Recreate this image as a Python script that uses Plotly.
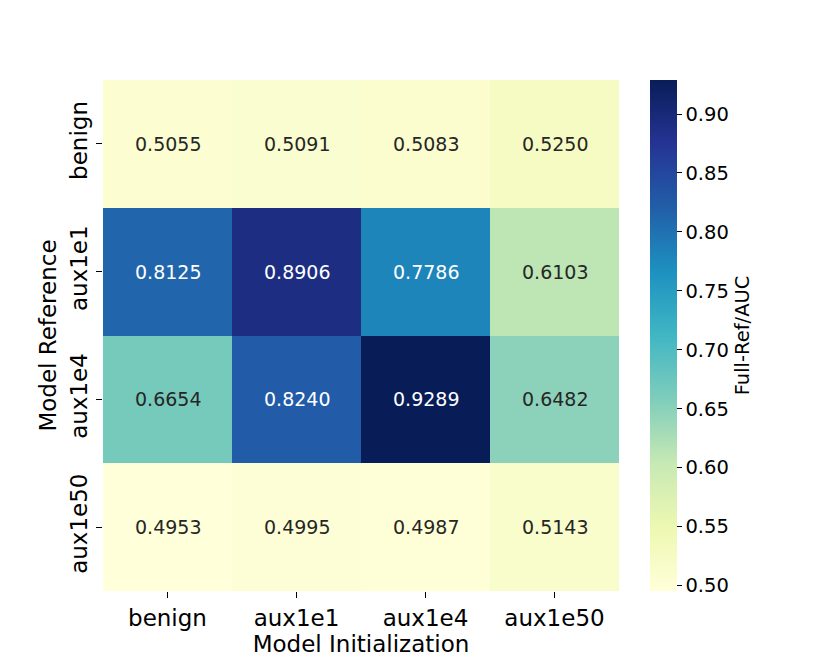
import numpy as np
import plotly.graph_objects as go

# ============================================================
# Data
# ============================================================
init_labels = ["benign", "aux1e1", "aux1e4", "aux1e50"]
ref_labels = ["benign", "aux1e1", "aux1e4", "aux1e50"]

auc = [
    [0.5055, 0.5091, 0.5083, 0.5250],
    [0.8125, 0.8906, 0.7786, 0.6103],
    [0.6654, 0.8240, 0.9289, 0.6482],
    [0.4953, 0.4995, 0.4987, 0.5143],
]

cbar_ticks = [0.50, 0.55, 0.60, 0.65, 0.70, 0.75, 0.80, 0.85, 0.90]

# ============================================================
# YlGnBu (matplotlib / colorbrewer)
# ============================================================
ylgnbu = [
    (255, 255, 217), (237, 248, 177), (199, 233, 180), (127, 205, 187),
    (65, 182, 196), (29, 145, 192), (34, 94, 168), (37, 52, 148), (8, 29, 88),
]
scale = [[i / (len(ylgnbu) - 1), "rgb(%d,%d,%d)" % c] for i, c in enumerate(ylgnbu)]

z = np.array(auc)
zmin, zmax = z.min(), z.max()


def cell_rgb(v):
    t = (v - zmin) / (zmax - zmin) * (len(ylgnbu) - 1)
    i = min(int(t), len(ylgnbu) - 2)
    f = t - i
    a, b = np.array(ylgnbu[i]), np.array(ylgnbu[i + 1])
    return (a + (b - a) * f) / 255.0


def luminance(rgb):
    lin = np.where(rgb <= 0.03928, rgb / 12.92, ((rgb + 0.055) / 1.055) ** 2.4)
    return 0.2126 * lin[0] + 0.7152 * lin[1] + 0.0722 * lin[2]


font = "DejaVu Sans"

# page body has an 8px offset, margins below account for it
fig = go.Figure()
fig.add_trace(go.Heatmap(
    z=auc, x=init_labels, y=ref_labels,
    colorscale=scale, zmin=zmin, zmax=zmax,
    xgap=0, ygap=0,
    colorbar=dict(
        x=1.0 + (650 - 619) / 516, xanchor="left", xpad=0,
        y=0.5, yanchor="middle", len=1.0, lenmode="fraction",
        thickness=27, outlinewidth=0, ypad=0,
        tickvals=cbar_ticks, tickformat=".2f",
        ticks="outside", ticklen=5, tickwidth=1.2, tickcolor="#000",
        tickfont=dict(family=font, size=19.5, color="#000"),
        title=dict(text="Full-Ref/AUC", side="right",
                   font=dict(family=font, size=19.5, color="#000")),
    ),
))

for r, row in enumerate(auc):
    for c, v in enumerate(row):
        col = "#262626" if luminance(cell_rgb(v)) > 0.408 else "#ffffff"
        fig.add_annotation(x=init_labels[c], y=ref_labels[r], text="%.4f" % v,
                           showarrow=False,
                           font=dict(family=font, size=19, color=col))

fig.update_layout(
    width=830, height=664,
    margin=dict(l=95, r=219, t=72, b=81),
    paper_bgcolor="white", plot_bgcolor="white",
    font=dict(family=font, color="#000"),
    xaxis=dict(
        title=dict(text="Model Initialization", font=dict(size=23), standoff=2),
        tickfont=dict(size=23), ticks="outside", ticklen=6, tickwidth=1.2,
        tickcolor="#000", showgrid=False, zeroline=False, showline=False,
    ),
    yaxis=dict(
        title=dict(text="Model Reference", font=dict(size=23), standoff=2),
        tickfont=dict(size=23), tickangle=-90, ticks="outside", ticklen=6,
        tickwidth=1.2, tickcolor="#000", autorange="reversed",
        showgrid=False, zeroline=False, showline=False,
    ),
)

fig.write_html("out.html")
